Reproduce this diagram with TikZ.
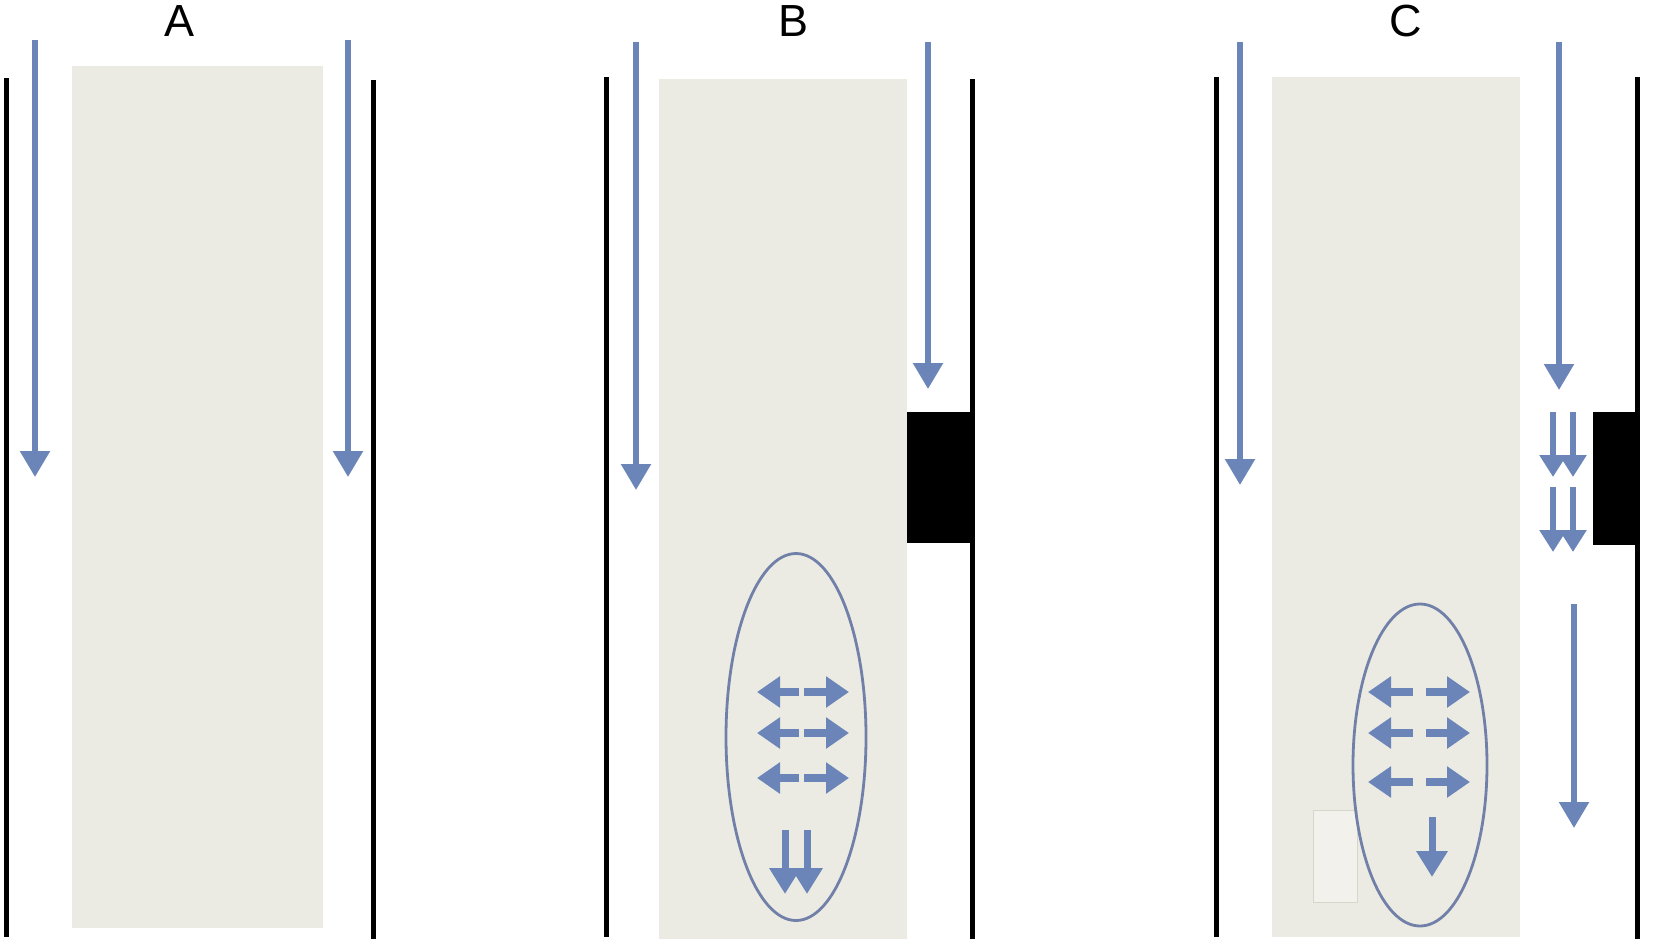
\documentclass[tikz,border=0pt]{standalone}
\usepackage{fontspec}
\setmainfont{Liberation Sans}
\usetikzlibrary{arrows.meta,shapes.geometric}
\definecolor{flow}{RGB}{108,133,185}
\definecolor{cell}{RGB}{236,235,227}
\definecolor{ring}{RGB}{112,128,168}
\tikzset{
  wall/.style={line width=5pt,black},
  flowarrow/.style={line width=5.5pt,flow,-{Triangle[width=29pt,length=26pt]}},
  pairarrow/.style={line width=6pt,flow,-{Triangle[width=26pt,length=22pt]}},
  sidearrow/.style={line width=8pt,flow,-{Triangle[width=30pt,length=23pt]}},
  downarrow/.style={line width=7pt,flow,-{Triangle[width=30pt,length=26pt]}},
  cellbox/.style={fill=cell,draw=none,inner sep=0pt,anchor=north west},
  blockbox/.style={fill=black,draw=none,inner sep=0pt,anchor=north west},
  zone/.style={ellipse,draw=ring,line width=2.8pt,inner sep=0pt},
  panellabel/.style={font=\fontsize{45}{54}\selectfont,inner sep=0pt}
}
\begin{document}
\begin{tikzpicture}[x=1pt,y=-1pt]
\useasboundingbox (0,0) rectangle (1654,948);
% ---------- Panel A ----------
\node[panellabel] (labA) at (180,21) {A};
\node[cellbox,minimum width=251pt,minimum height=862pt] (cellA) at (72,66) {};
\coordinate (wAl1) at (6,78); \coordinate (wAl2) at (6,937);
\coordinate (wAr1) at (373,80); \coordinate (wAr2) at (373,939);
\draw[wall] (wAl1) -- (wAl2);
\draw[wall] (wAr1) -- (wAr2);
\coordinate (fAl1) at (35,40); \coordinate (fAl2) at (35,477);
\coordinate (fAr1) at (348,40); \coordinate (fAr2) at (348,477);
\draw[flowarrow] (fAl1) -- (fAl2);
\draw[flowarrow] (fAr1) -- (fAr2);
% ---------- Panel B ----------
\node[panellabel] (labB) at (793,21) {B};
\node[cellbox,minimum width=248pt,minimum height=860pt] (cellB) at (659,79) {};
\coordinate (wBl1) at (606,77); \coordinate (wBl2) at (606,937);
\coordinate (wBr1) at (972,79); \coordinate (wBr2) at (972,939);
\draw[wall] (wBl1) -- (wBl2);
\draw[wall] (wBr1) -- (wBr2);
\node[blockbox,minimum width=66pt,minimum height=131pt] (blockB) at (907,412) {};
\coordinate (fBl1) at (636,42); \coordinate (fBl2) at (636,490);
\coordinate (fBr1) at (928,42); \coordinate (fBr2) at (928,389);
\draw[flowarrow] (fBl1) -- (fBl2);
\draw[flowarrow] (fBr1) -- (fBr2);
\node[zone,minimum width=140pt,minimum height=367pt] (zoneB) at (796,737) {};
\foreach \i/\y in {1/692,2/733,3/778}{
  \coordinate (bL\i t) at (799,\y); \coordinate (bL\i h) at (757,\y);
  \coordinate (bR\i t) at (804,\y); \coordinate (bR\i h) at (849,\y);
  \draw[sidearrow] (bL\i t) -- (bL\i h);
  \draw[sidearrow] (bR\i t) -- (bR\i h);
}
\coordinate (bD1t) at (785,830); \coordinate (bD1h) at (785,894);
\coordinate (bD2t) at (807,830); \coordinate (bD2h) at (807,894);
\draw[downarrow] (bD1t) -- (bD1h);
\draw[downarrow] (bD2t) -- (bD2h);
% ---------- Panel C ----------
\node[panellabel] (labC) at (1406,21) {C};
\node[cellbox,minimum width=248pt,minimum height=860pt] (cellC) at (1272,77) {};
\coordinate (wCl1) at (1216,77); \coordinate (wCl2) at (1216,937);
\coordinate (wCr1) at (1637,77); \coordinate (wCr2) at (1637,939);
\draw[wall] (wCl1) -- (wCl2);
\draw[wall] (wCr1) -- (wCr2);
\node[blockbox,minimum width=42pt,minimum height=133pt] (blockC) at (1593,412) {};
\coordinate (fCl1) at (1240,42); \coordinate (fCl2) at (1240,485);
\coordinate (fCr1) at (1559,42); \coordinate (fCr2) at (1559,390);
\draw[flowarrow] (fCl1) -- (fCl2);
\draw[flowarrow] (fCr1) -- (fCr2);
\foreach \x/\n in {1553/a,1573/b}{
  \coordinate (cP1\n t) at (\x,412); \coordinate (cP1\n h) at (\x,477);
  \coordinate (cP2\n t) at (\x,487); \coordinate (cP2\n h) at (\x,552);
  \draw[pairarrow] (cP1\n t) -- (cP1\n h);
  \draw[pairarrow] (cP2\n t) -- (cP2\n h);
}
\coordinate (fClow1) at (1574,604); \coordinate (fClow2) at (1574,828);
\draw[flowarrow] (fClow1) -- (fClow2);
\node[fill={rgb,255:red,242;green,241;blue,235},draw={rgb,255:red,215;green,214;blue,205},line width=1pt,inner sep=0pt,anchor=north west,minimum width=44pt,minimum height=92pt] (bleb) at (1313,810) {};
\node[zone,minimum width=134pt,minimum height=322pt] (zoneC) at (1420,765) {};
\foreach \i/\y in {1/692,2/733,3/782}{
  \coordinate (cL\i t) at (1413,\y); \coordinate (cL\i h) at (1368,\y);
  \coordinate (cR\i t) at (1426,\y); \coordinate (cR\i h) at (1470,\y);
  \draw[sidearrow] (cL\i t) -- (cL\i h);
  \draw[sidearrow] (cR\i t) -- (cR\i h);
}
\coordinate (cDt) at (1432,817); \coordinate (cDh) at (1432,877);
\draw[downarrow] (cDt) -- (cDh);
\end{tikzpicture}
\end{document}
